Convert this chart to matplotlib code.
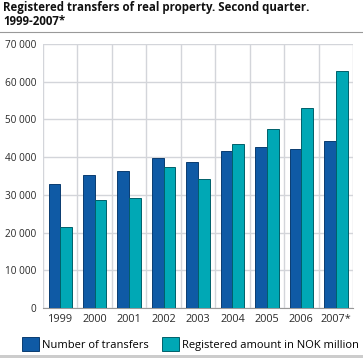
import matplotlib.pyplot as plt
import numpy as np
from matplotlib.ticker import FuncFormatter, MultipleLocator
from matplotlib.lines import Line2D
from matplotlib.patches import Rectangle

years = ["1999", "2000", "2001", "2002", "2003", "2004", "2005", "2006", "2007*"]
transfers = [33000, 35200, 36400, 39850, 38800, 41550, 42800, 42200, 44200]
amount = [21600, 28550, 29100, 37400, 34200, 43500, 47400, 53100, 62800]

title = "Registered transfers of real property. Second quarter.\n1999-2007*"
labels = ["Number of transfers", "Registered amount in NOK million"]

blue = "#0f5aa5"
teal = "#00a8b5"
font = ["Open Sans", "DejaVu Sans"]


def thousands(v, pos):
    return f"{int(v):,}".replace(",", " ")


fig = plt.figure(figsize=(3.63, 3.58), dpi=100)
ax = fig.add_axes([0.1185, 0.1397, 0.855, 0.7373])

x = np.arange(len(years))
w = 0.34
ax.bar(x - w / 2, transfers, w, color=blue, edgecolor="#0a3c70", linewidth=0.7, zorder=3, label=labels[0])
ax.bar(x + w / 2, amount, w, color=teal, edgecolor="#00606a", linewidth=0.7, zorder=3, label=labels[1])

ax.set_xlim(-0.5, len(years) - 0.49)
ax.set_ylim(0, 70000)
ax.yaxis.set_major_locator(MultipleLocator(10000))
ax.yaxis.set_major_formatter(FuncFormatter(thousands))
ax.set_xticks(x)
ax.set_xticklabels(years)
ax.set_xticks(np.arange(-0.5, len(years), 1), minor=True)
ax.grid(True, axis="y", which="major", color="#d3d5da", linewidth=1, zorder=0)
ax.grid(True, axis="x", which="minor", color="#d3d5da", linewidth=1, zorder=0)
ax.grid(False, axis="x", which="major")
for s in ["top", "right", "left"]:
    ax.spines[s].set_visible(False)
ax.spines["bottom"].set_color("#999999")
ax.tick_params(axis="both", which="both", length=0, colors="#2a2a2a")
ax.tick_params(axis="x", labelsize=7.8, pad=4)
ax.tick_params(axis="y", labelsize=7.2, pad=5)
for t in ax.get_xticklabels() + ax.get_yticklabels():
    t.set_family(font)

fig.text(0.008, 0.997, title, ha="left", va="top", fontsize=8.3, fontweight="bold",
         family=font, color="#111111", linespacing=1.1)
fig.add_artist(Line2D([0, 1], [0.911, 0.911], color="#999999", linewidth=0.8))
fig.add_artist(Rectangle((0, 0), 1, 0.009, color="#cccccc", linewidth=0))

leg = fig.legend(loc="center", bbox_to_anchor=(0.525, 0.039), ncol=2, frameon=False,
                 prop={"family": font, "size": 8}, handlelength=1.5, handleheight=1.5,
                 handletextpad=0.3, columnspacing=1.2)

fig.savefig("out.png", dpi=100)
